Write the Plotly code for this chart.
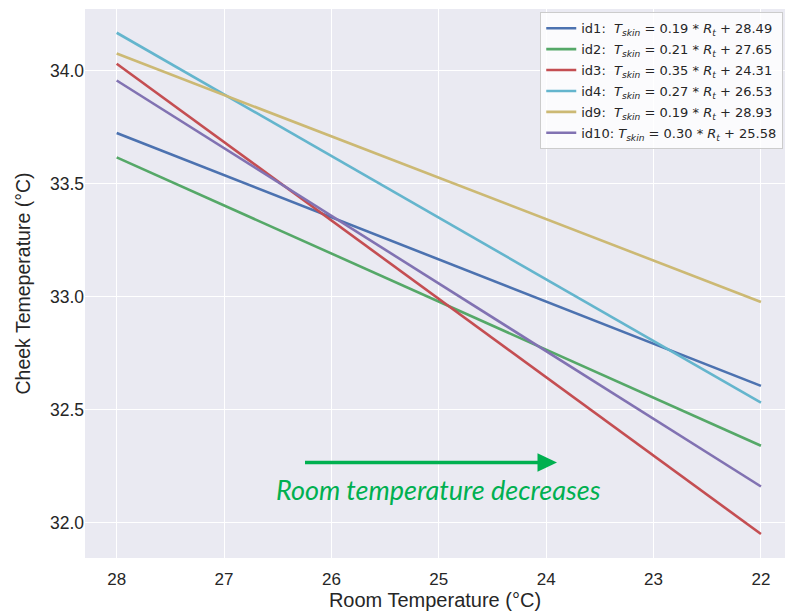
import plotly.graph_objects as go

# Room temperature endpoints (°C) of each fitted line
room_temp = [28, 22]

# Fitted cheek temperature at each room-temperature endpoint
series_names = ["id1", "id2", "id3", "id4", "id9", "id10"]
cheek_id1 = [33.724, 32.606]
cheek_id2 = [33.616, 32.341]
cheek_id3 = [34.030, 31.951]
cheek_id4 = [34.167, 32.532]
cheek_id9 = [34.075, 32.977]
cheek_id10 = [33.956, 32.161]

# Legend equations: slope and intercept per subject
slopes = ["0.19", "0.21", "0.35", "0.27", "0.19", "0.30"]
intercepts = ["28.49", "27.65", "24.31", "26.53", "28.93", "25.58"]

colors = ["#4C72B0", "#55A868", "#C44E52", "#64B5CD", "#CCB974", "#8172B2"]
series_values = [cheek_id1, cheek_id2, cheek_id3, cheek_id4, cheek_id9, cheek_id10]

fig = go.Figure()
for name, vals, a, b, c in zip(series_names, series_values, slopes, intercepts, colors):
    gap = " " if len(name) > 3 else "&nbsp;&nbsp;"
    label = (f"{name}:{gap}<i>T</i><sub><i>skin</i></sub> = {a} * "
             f"<i>R</i><sub><i>t</i></sub> + {b}")
    fig.add_trace(go.Scatter(x=room_temp, y=vals, mode="lines", name=label,
                             legendgroup=name,
                             line=dict(color=c, width=2.6)))

W, H = 785, 616
L, R, T, B = 85, 0, 9, 58
pw, ph = W - L - R, H - T - B


def px_x(v):
    return (v - L) / pw


def px_y(v):
    return (H - B - v) / ph


# Arrow indicating direction of decreasing room temperature
fig.add_shape(type="line", xref="paper", yref="paper",
              x0=px_x(305), x1=px_x(540), y0=px_y(462.5), y1=px_y(462.5),
              line=dict(color="#00B050", width=3.6))
fig.add_shape(type="path", xref="paper", yref="paper",
              path=(f"M {px_x(537.5)} {px_y(453.3)} L {px_x(557)} {px_y(462.5)} "
                    f"L {px_x(537.5)} {px_y(471.7)} Z"),
              fillcolor="#00B050", line=dict(color="#00B050", width=0))
fig.add_annotation(xref="paper", yref="paper", x=px_x(438), y=px_y(489),
                   text="<i>Room temperature decreases</i>", showarrow=False,
                   font=dict(family="Lato", size=27, color="#00B050"),
                   xanchor="center", yanchor="middle")

fig.update_layout(
    width=W, height=H,
    margin=dict(l=L, r=R, t=T, b=B),
    paper_bgcolor="white",
    plot_bgcolor="#EAEAF2",
    font=dict(family="Liberation Sans, Arial", color="#262626"),
    showlegend=True,
    legend=dict(x=0.9975, y=0.994, xanchor="right", yanchor="top",
                bgcolor="rgba(255,255,255,0.8)", bordercolor="#CCCCCC",
                borderwidth=1, font=dict(family="DejaVu Sans", size=13, color="#262626"),
                itemwidth=30, tracegroupgap=1),
)
fig.update_xaxes(range=[28.295, 21.776], dtick=1, tick0=22,
                 showgrid=True, gridcolor="white", gridwidth=1.2, zeroline=False,
                 showline=False, ticks="outside", ticklen=6, tickcolor="rgba(0,0,0,0)",
                 tickfont=dict(size=17),
                 title=dict(text="Room Temperature (°C)", font=dict(size=20), standoff=2))
fig.update_yaxes(range=[31.845, 34.272], dtick=0.5, tick0=32, tickformat=".1f",
                 showgrid=True, gridcolor="white", gridwidth=1.2, zeroline=False,
                 showline=False, ticks="", ticklabelstandoff=0,
                 tickfont=dict(size=17.5),
                 title=dict(text="Cheek Temeperature (°C)", font=dict(size=19.5), standoff=14))

fig.write_html("out.html")
